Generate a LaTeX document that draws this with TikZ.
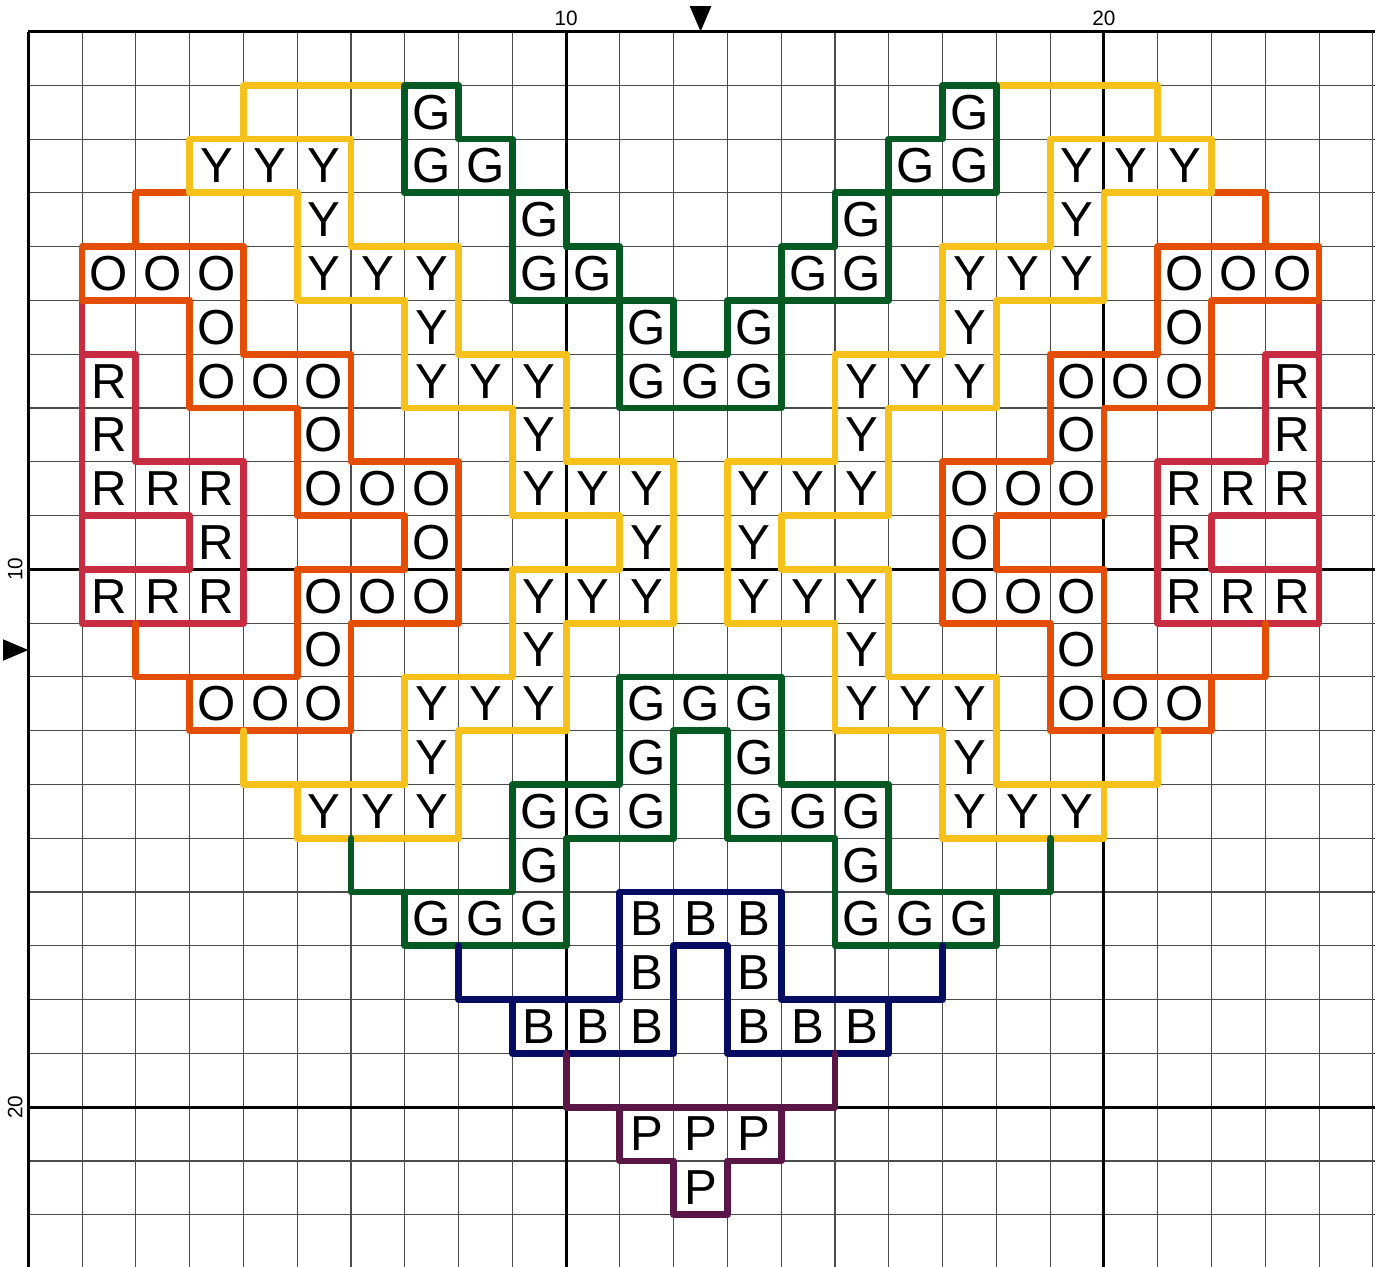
\documentclass[tikz,border=0pt]{standalone}
\usepackage{fontspec}
\setmainfont{Liberation Sans}

\definecolor{threadyellow}{RGB}{246,193,26}
\definecolor{threadgreen}{RGB}{5,90,36}
\definecolor{threadorange}{RGB}{227,77,4}
\definecolor{threadred}{RGB}{199,44,64}
\definecolor{threadblue}{RGB}{5,12,98}
\definecolor{threadpurple}{RGB}{90,22,70}

% stitches of the left half: letter/column/row
\newcommand{\halfcells}{%
G/7/1,
Y/3/2, Y/4/2, Y/5/2, G/7/2, G/8/2,
Y/5/3, G/9/3,
O/1/4, O/2/4, O/3/4, Y/5/4, Y/6/4, Y/7/4, G/9/4, G/10/4,
O/3/5, Y/7/5, G/11/5,
R/1/6, O/3/6, O/4/6, O/5/6, Y/7/6, Y/8/6, Y/9/6, G/11/6,
R/1/7, O/5/7, Y/9/7,
R/1/8, R/2/8, R/3/8, O/5/8, O/6/8, O/7/8, Y/9/8, Y/10/8, Y/11/8,
R/3/9, O/7/9, Y/11/9,
R/1/10, R/2/10, R/3/10, O/5/10, O/6/10, O/7/10, Y/9/10, Y/10/10, Y/11/10,
O/5/11, Y/9/11,
O/3/12, O/4/12, O/5/12, Y/7/12, Y/8/12, Y/9/12, G/11/12,
Y/7/13, G/11/13,
Y/5/14, Y/6/14, Y/7/14, G/9/14, G/10/14, G/11/14,
G/9/15,
G/7/16, G/8/16, G/9/16, B/11/16,
B/11/17,
B/9/18, B/10/18, B/11/18,
P/11/20}

% outlines of the left half
\newcommand{\halfoutline}{%
  % red
  \draw[redline] (1,5) -- (1,11) -- (4,11) -- (4,8) -- (2,8) -- (2,6) -- (1,6);
  \draw[redline] (1,9) -- (3,9) -- (3,10) -- (1,10);
  % orange
  \draw[orangeline] (2,4) -- (2,3) -- (3,3);
  \draw[orangeline] (2,11) -- (2,12) -- (5,12) -- (5,10) -- (7,10) -- (7,9) -- (5,9) -- (5,7) -- (3,7) -- (3,5) -- (1,5) -- (1,4) -- (4,4) -- (4,6) -- (6,6) -- (6,8) -- (8,8) -- (8,11) -- (6,11) -- (6,13) -- (3,13) -- (3,12);
  % yellow
  \draw[yellowline] (4,2) -- (4,1) -- (7,1);
  \draw[yellowline] (3,3) -- (3,2) -- (6,2) -- (6,4) -- (8,4) -- (8,6) -- (10,6) -- (10,8) -- (12,8) -- (12,11) -- (10,11) -- (10,13) -- (8,13) -- (8,15) -- (5,15) -- (5,14);
  \draw[yellowline] (3,3) -- (5,3) -- (5,5) -- (7,5) -- (7,7) -- (9,7) -- (9,9) -- (11,9) -- (11,10) -- (9,10) -- (9,12) -- (7,12) -- (7,14) -- (4,14) -- (4,13);
  % green tail
  \draw[greenline] (6,15) -- (6,16) -- (7,16);
}

\begin{document}
\begin{tikzpicture}[y=-1cm,
  gridline/.style={black!70, line width=0.6pt},
  majorline/.style={black, line width=1.6pt},
  thread/.style={line width=3.6pt, line cap=round, line join=round},
  yellowline/.style={thread, threadyellow},
  greenline/.style={thread, threadgreen},
  orangeline/.style={thread, threadorange},
  redline/.style={thread, threadred},
  blueline/.style={thread, threadblue},
  purpleline/.style={thread, threadpurple},
  stitch/.style={font=\fontsize{26}{26}\selectfont, inner sep=0pt},
  axislabel/.style={font=\fontsize{11}{11}\selectfont, inner sep=0pt}]
\useasboundingbox (-0.526,-0.586) rectangle (25.04,22.97);

% Grid
\foreach \x in {1,...,25} \draw[gridline] (\x,0) -- (\x,22.97);
\foreach \y in {1,...,22} \draw[gridline] (0,\y) -- (25.04,\y);
\foreach \v in {0,10,20} {
    \draw[majorline] (\v,0) -- (\v,22.97);
    \draw[majorline] (0,\v) -- (25.04,\v);
}

% Axis numbers and centre marks
\node[axislabel, anchor=south] (col10) at (10,-0.1) {10};
\node[axislabel, anchor=south] (col20) at (20,-0.1) {20};
\node[axislabel, anchor=south, rotate=90] (row10) at (-0.1,10) {10};
\node[axislabel, anchor=south, rotate=90] (row20) at (-0.1,20) {20};
\fill (12.5,0) -- (12.3,-0.47) -- (12.7,-0.47) -- cycle;
\fill (0,11.5) -- (-0.47,11.3) -- (-0.47,11.7) -- cycle;

% Left half
\halfoutline
\foreach \ltr/\c/\r in \halfcells
    \node[stitch] (\ltr-\c-\r) at (\c+0.5,\r+0.5) {\ltr};

% Right half (mirror)
\begin{scope}[xshift=25cm, xscale=-1, name prefix=m-]
\halfoutline
\foreach \ltr/\c/\r in \halfcells
    \node[stitch] (\ltr-\c-\r) at (\c+0.5,\r+0.5) {\ltr};
\end{scope}

% Centre: green, blue, purple
\draw[greenline] (7,1) -- (8,1) -- (8,2) -- (9,2) -- (9,3) -- (10,3) -- (10,4) -- (11,4) -- (11,5) -- (12,5) -- (12,6) -- (13,6) -- (13,5) -- (14,5) -- (14,4) -- (15,4) -- (15,3) -- (16,3) -- (16,2) -- (17,2) -- (17,1) -- (18,1) -- (18,3) -- (16,3) -- (16,5) -- (14,5) -- (14,7) -- (11,7) -- (11,5) -- (9,5) -- (9,3) -- (7,3) -- cycle;
\draw[greenline] (11,12) -- (14,12) -- (14,14) -- (16,14) -- (16,16) -- (18,16) -- (18,17) -- (15,17) -- (15,15) -- (13,15) -- (13,13) -- (12,13) -- (12,15) -- (10,15) -- (10,17) -- (7,17) -- (7,16) -- (9,16) -- (9,14) -- (11,14) -- cycle;
\draw[blueline] (8,17) -- (8,18) -- (11,18) -- (11,16) -- (14,16) -- (14,18) -- (17,18) -- (17,17);
\draw[blueline] (9,18) -- (9,19) -- (12,19) -- (12,17) -- (13,17) -- (13,19) -- (16,19) -- (16,18);
\draw[purpleline] (10,19) -- (10,20) -- (15,20) -- (15,19);
\draw[purpleline] (11,20) -- (11,21) -- (12,21) -- (12,22) -- (13,22) -- (13,21) -- (14,21) -- (14,20);
\foreach \ltr/\r in {G/6, G/12, B/16, P/20, P/21}
    \node[stitch] (\ltr-12-\r) at (12.5,\r+0.5) {\ltr};

\end{tikzpicture}
\end{document}
